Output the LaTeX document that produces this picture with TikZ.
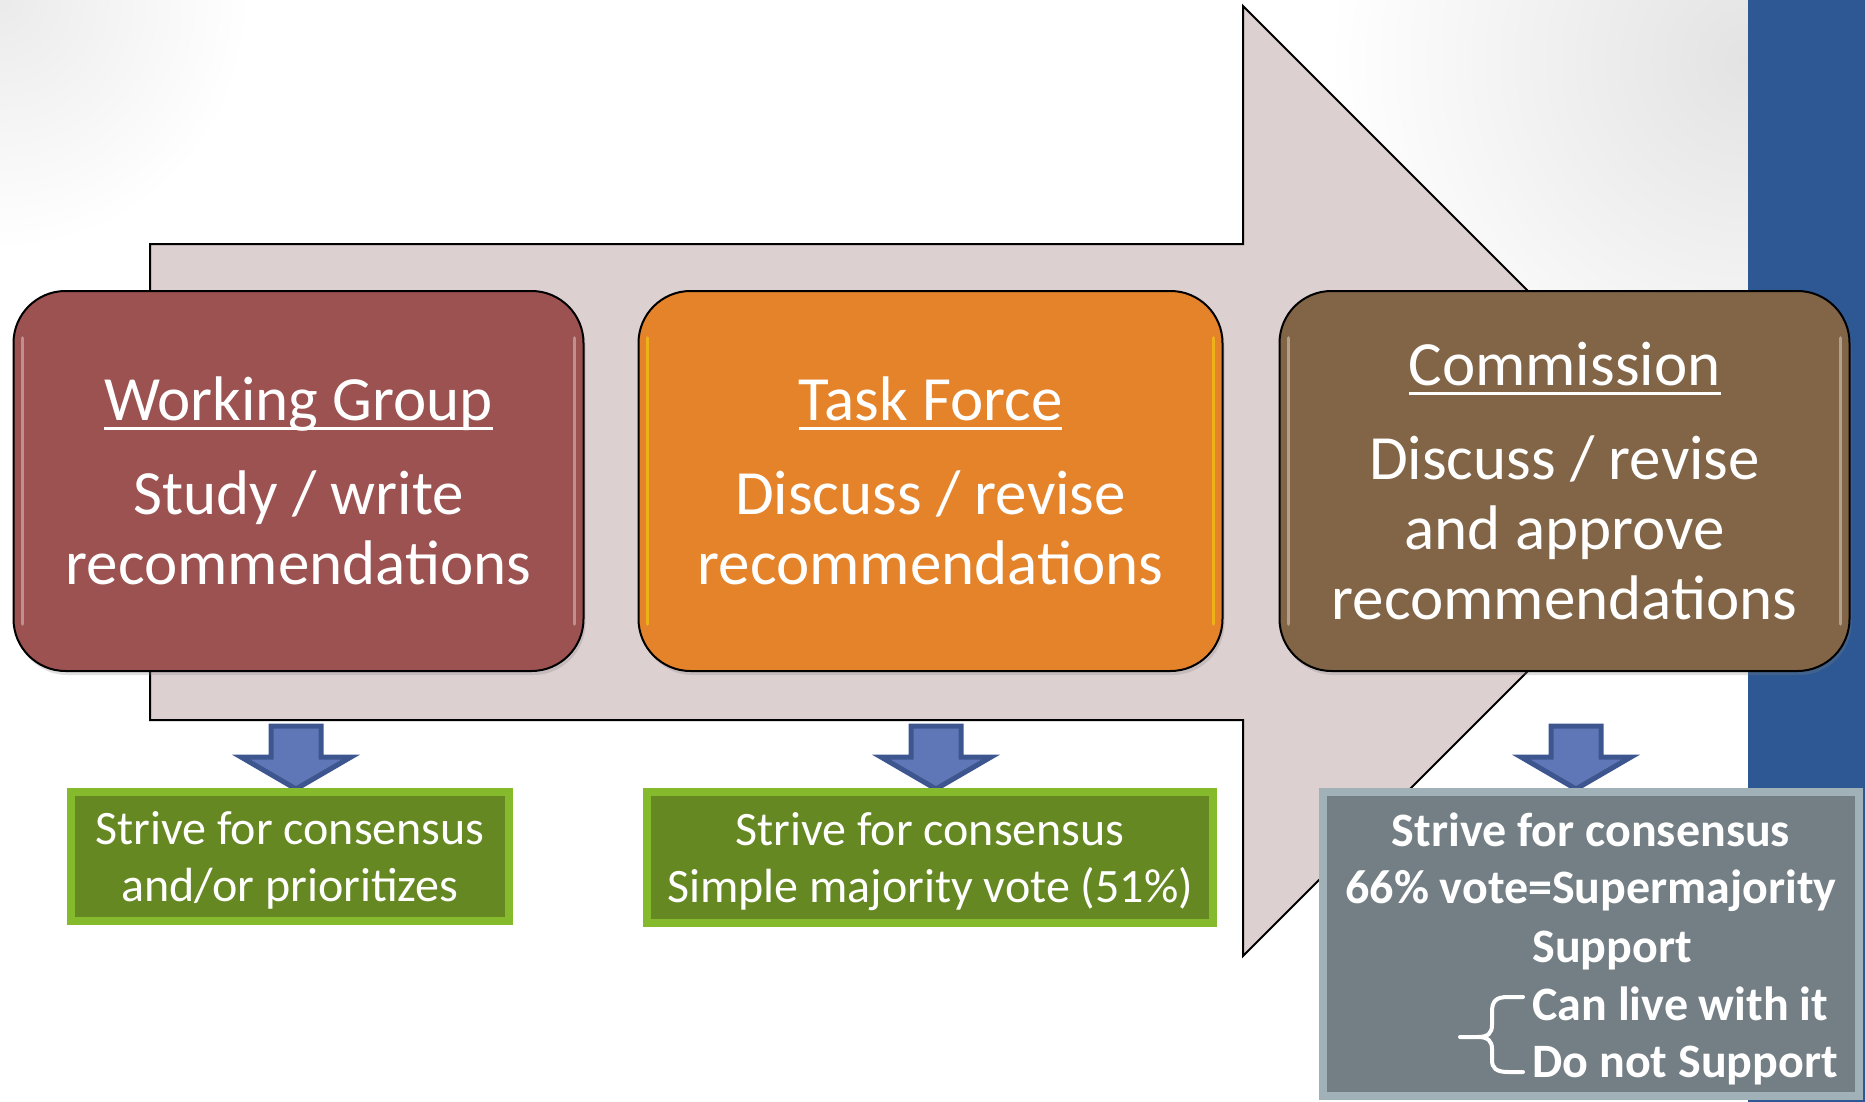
\documentclass[tikz,border=0pt]{standalone}
\usepackage{fontspec}
\setmainfont{Carlito}
\usepackage{tikz}
\usetikzlibrary{positioning,shadows}
\definecolor{arrowbody}{RGB}{221,208,209}
\definecolor{wgred}{RGB}{156,82,80}
\definecolor{tforange}{RGB}{229,131,42}
\definecolor{cmbrown}{RGB}{130,100,70}
\definecolor{votegreen}{RGB}{101,136,34}
\definecolor{votegreenrim}{RGB}{133,186,44}
\definecolor{votegray}{RGB}{115,127,132}
\definecolor{votegrayrim}{RGB}{160,177,184}
\definecolor{downblue}{RGB}{95,119,182}
\definecolor{downblueline}{RGB}{62,86,143}
\definecolor{bandblue}{RGB}{46,88,148}
\newcommand{\titleul}[1]{\setbox0=\hbox{#1}\rlap{\rule[-4.8pt]{\wd0}{1.5pt}}\box0}
\tikzstyle{stage}=[
	rectangle,
	rounded corners=26pt,
	draw=black,
	line width=1pt,
	text=white,
	align=center,
	inner sep=0pt,
	minimum height=190pt,
	font=\fontsize{31.5}{35}\selectfont,
	drop shadow={opacity=.25,shadow xshift=1pt,shadow yshift=-2pt}]
\tikzstyle{vote}=[
	rectangle,
	line width=4pt,
	text=white,
	align=center,
	inner sep=0pt,
	text depth=0pt,
	font=\fontsize{24}{28.5}\selectfont]
\tikzstyle{votebold}=[
	text=white,
	inner sep=0pt,
	font=\bfseries\fontsize{24}{28.7}\selectfont]
\tikzstyle{downarrow}=[
	fill=downblue,
	draw=downblueline,
	line width=2.5pt,
	line join=miter]

\begin{document}
\begin{tikzpicture}[x=0.5pt,y=-0.5pt]
	\useasboundingbox (0,0) rectangle (1865,1102);
	% backdrop
	\fill[white] (0,0) rectangle (1865,1102);
	\begin{scope}
		\clip (0,0) rectangle (1748,1102);
		\shade[inner color=black!8,outer color=white] (0,0) circle (125pt);
		\shade[inner color=black!11,outer color=white] (1748,60) circle (210pt);
	\end{scope}
	\fill[bandblue] (1748,0) rectangle (1865,1102);
	% process arrow
	\draw[fill=arrowbody,line width=1pt,line join=miter] (150,244) -- (1243,244) -- (1243,6) -- (1718,481) -- (1243,956) -- (1243,720) -- (150,720) -- cycle;
	\begin{scope}
		\node[stage,fill=wgred,minimum width=285pt]	(wg)	at (298.5,481)	{\titleul{Working Group}\\[12pt] Study / write\\ recommendations};
		\node[stage,fill=tforange,minimum width=292pt]	(tf)	[right=26.5pt of wg]	{\titleul{Task Force}\\[12pt] Discuss / revise\\ recommendations};
		\node[stage,fill=cmbrown,minimum width=285pt]	(cm)	[right=27.5pt of tf]	{\titleul{Commission}\\[12pt] Discuss / revise\\ and approve\\ recommendations};
		\foreach \stg/\glow in {wg/wgred!35!white,tf/tforange!30!yellow,cm/cmbrown!30!white}{
			\draw[\glow,line width=1.8pt,line cap=round,opacity=.55] ([shift={(5pt,-24pt)}]\stg.north west) -- ([shift={(5pt,24pt)}]\stg.south west);
			\draw[\glow,line width=1.8pt,line cap=round,opacity=.55] ([shift={(-5pt,-24pt)}]\stg.north east) -- ([shift={(-5pt,24pt)}]\stg.south east);
		}
	\end{scope}
	% voting rules
	\foreach \xc in {296,936,1576}
		\draw[downarrow] (\xc-25,726) -- (\xc+25,726) -- (\xc+25,757) -- (\xc+55,757) -- (\xc,789) -- (\xc-55,757) -- (\xc-25,757) -- cycle;
	\node[vote,fill=votegreen,draw=votegreenrim,minimum width=219pt,minimum height=64.5pt]	(wgvote)	at (290,856.5)	{Strive for consensus\\ and/or prioritizes};
	\node[vote,fill=votegreen,draw=votegreenrim,minimum width=283pt,minimum height=65.5pt]	(tfvote)	at (930,857.5)	{Strive for consensus\\ Simple majority vote (51\%)};
	\node[vote,fill=votegray,draw=votegrayrim,minimum width=268pt,minimum height=152pt]	(cmvote)	at (1591,944)	{};
	\node[votebold,align=center,anchor=base]	(cmrule)	at (1591,903.5)	{Strive for consensus\\ 66\% vote=Supermajority};
	\node[votebold,align=left,anchor=base west]	(cmsupport)	at (1532,1077.5)	{Support\\ Can live with it\\ Do not Support};
	\draw[white,line width=2pt,line cap=round] (1523,997) -- (1508,997) .. controls (1496,997) and (1492,1001) .. (1492,1012) -- (1492,1025) .. controls (1492,1033) and (1488,1037) .. (1478,1037) -- (1460,1037) (1478,1037) .. controls (1488,1037) and (1492,1041) .. (1492,1049) -- (1492,1060) .. controls (1492,1068) and (1496,1072) .. (1508,1072) -- (1523,1072);
\end{tikzpicture}
\end{document}
